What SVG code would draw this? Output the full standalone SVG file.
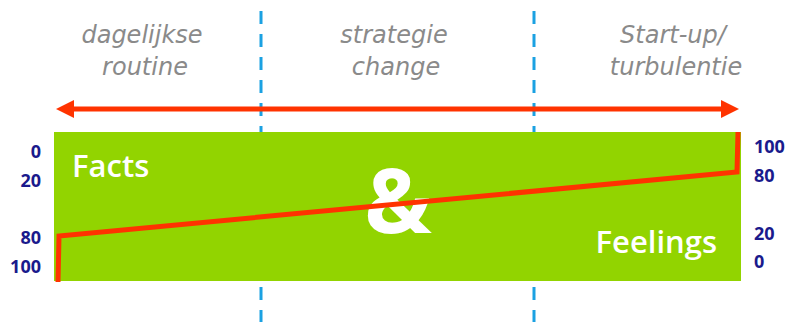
<svg xmlns="http://www.w3.org/2000/svg" width="787" height="322" viewBox="0 0 787 322">
  <style>
    .cat { font-family: "DejaVu Sans", "Liberation Sans", sans-serif; font-style: italic; font-size: 24px; fill: #8a8a8a; text-anchor: middle; }
    .num { font-family: "Open Sans", "DejaVu Sans", sans-serif; font-weight: bold; font-size: 18px; fill: #1a1a8c; }
    .big { font-family: "Open Sans", "DejaVu Sans", sans-serif; font-weight: 600; font-size: 31px; fill: #ffffff; }
    .divider { stroke: #1ba1e2; stroke-width: 3; stroke-dasharray: 13 10; fill: none; }
    .red { stroke: #ff3300; stroke-width: 5; fill: none; }
  </style>
  <defs>
    <marker id="ah" viewBox="0 0 18 18" refX="2" refY="9" markerWidth="18" markerHeight="18" markerUnits="userSpaceOnUse" orient="auto-start-reverse">
      <path d="M0,0 L18,9 L0,18 Z" fill="#ff3300"/>
    </marker>
  </defs>
  <rect width="787" height="322" fill="#ffffff"/>

  <g id="connectors">
    <line class="divider" x1="261" y1="11" x2="261" y2="322"/>
    <line class="divider" x1="534" y1="11" x2="534" y2="322"/>
    <line class="red" x1="72" y1="109" x2="723" y2="109" marker-start="url(#ah)" marker-end="url(#ah)"/>
  </g>

  <g id="labels-top">
    <text class="cat" x="142" y="43">dagelijkse</text>
    <text class="cat" x="145" y="75">routine</text>
    <text class="cat" x="394" y="43">strategie</text>
    <text class="cat" x="396" y="75">change</text>
    <text class="cat" x="673" y="43">Start-up/</text>
    <text class="cat" x="676" y="75">turbulentie</text>
  </g>

  <g id="panel">
    <rect x="54" y="132" width="687" height="149" fill="#92d400"/>
    <text class="big" x="72" y="177">Facts</text>
    <text class="big" x="717" y="253" text-anchor="end">Feelings</text>
    <text x="398" y="233" text-anchor="middle" font-family="Open Sans, DejaVu Sans, sans-serif" font-weight="bold" font-size="90" fill="#ffffff">&amp;</text>
    <polyline class="red" points="58,282 59,236 737,172 738,132"/>
  </g>

  <g id="scale-left">
    <text class="num" x="41" y="158" text-anchor="end">0</text>
    <text class="num" x="41" y="187" text-anchor="end">20</text>
    <text class="num" x="41" y="244" text-anchor="end">80</text>
    <text class="num" x="41" y="273" text-anchor="end">100</text>
  </g>
  <g id="scale-right">
    <text class="num" x="754" y="153">100</text>
    <text class="num" x="754" y="182">80</text>
    <text class="num" x="754" y="240">20</text>
    <text class="num" x="754" y="268">0</text>
  </g>
</svg>
